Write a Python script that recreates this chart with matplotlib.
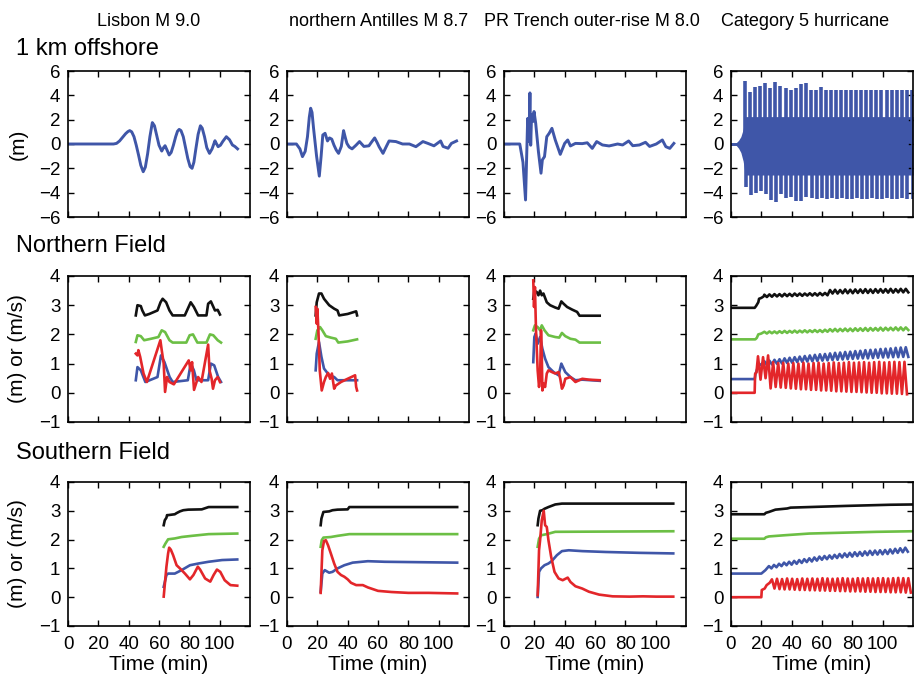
import numpy as np
import matplotlib
matplotlib.use("Agg")
import matplotlib.pyplot as plt

plt.rcParams['font.family'] = ['Liberation Sans', 'DejaVu Sans']

# --- column titles / row labels ---
col_titles = ["Lisbon M 9.0", "northern Antilles M 8.7",
              "PR Trench outer-rise M 8.0", "Category 5 hurricane"]
row_labels = ["1 km offshore", "Northern Field", "Southern Field"]
row_ylabels = ["(m)", "(m) or (m/s)", "(m) or (m/s)"]
x_ticks = [0, 20, 40, 60, 80, 100]
top_yticks = [-6, -4, -2, 0, 2, 4, 6]
field_yticks = [-1, 0, 1, 2, 3, 4]

# --- row 1: water level 1 km offshore (min, m) ---
lis_off_t = [0, 30, 32, 34, 36, 38, 39.5, 40.7, 42, 43.5, 45, 46.5, 48, 49.6, 51, 52.5, 54,
             55.6, 57, 58.5, 60, 61.8, 63, 64, 65.3, 66.7, 68, 69.5, 71, 72.2, 73.3, 74.5, 76,
             77.5, 79, 80.5, 81.8, 83, 84.3, 85.8, 87.3, 88.5, 90, 91.5, 93.3, 95, 96.9, 98,
             99, 100.5, 102, 104.4, 106.5, 108.4, 110, 111.8]
lis_off_y = [0, 0, 0.05, 0.25, 0.55, 0.85, 1.02, 1.1, 1.0, 0.6, -0.1, -0.9, -1.75, -2.28,
             -1.9, -0.8, 0.6, 1.76, 1.5, 0.7, -0.1, -0.58, -0.3, -0.14, -0.5, -0.9, -0.7, -0.1,
             0.6, 1.05, 1.2, 1.1, 0.6, -0.3, -1.2, -1.85, -2.0, -1.5, -0.4, 0.8, 1.5, 1.3, 0.6,
             -0.3, -0.77, -0.4, 0.27, 0.0, -0.22, -0.1, 0.2, 0.6, 0.35, -0.08, -0.2, -0.4]

ant_off_t = [0, 6.2, 8.5, 10.2, 12, 13.5, 14.7, 15.6, 16.5, 17.5, 19.5, 21.3, 22.5, 23.6, 25.1,
             26.7, 28, 29.5, 31, 32.5, 34, 35.8, 37.3, 38.5, 39.5, 41, 42.9, 45.5, 47.8, 50.7,
             54, 56, 57.8, 59.5, 60.7, 63.3, 65.5, 67.3, 71.8, 76.2, 80.7, 85, 89.6, 92.9,
             96.9, 101.3, 102.9, 106.2, 108.4, 111.8]
ant_off_y = [0, 0, -0.4, -1.04, -0.6, 0.6, 2.2, 2.94, 2.6, 1.3, -1.0, -2.64, -1.0, 0.74, 0.88,
             0.25, 0.5, 0.4, -0.1, -0.5, -0.77, -0.2, 1.1, 0.5, 0.05, -0.25, -0.4, -0.1, 0.2,
             -0.2, -0.15, 0.2, 0.5, 0.1, -0.22, -0.77, -0.2, 0.25, 0.2, 0.0, 0.0, -0.22, 0.2,
             0.05, -0.15, 0.25, -0.2, -0.35, 0.05, 0.25]

pr_off_t = [0, 10.4, 12.5, 14.2, 15.6, 16.4, 17.1, 17.6, 18.2, 19.1, 19.8, 20.9, 22.7, 24.4,
            25.3, 26.7, 28.2, 29.8, 31.6, 33.8, 37.1, 40, 42, 43.8, 47.1, 51.6, 54.9, 58.2,
            61.1, 64.9, 69.3, 74.9, 78.2, 82.2, 84.9, 89.3, 93.3, 96, 100.4, 104.4, 106.7,
            109.3, 112]
pr_off_y = [0, 0, -1.5, -4.6, 2.1, 0.2, 4.2, -0.1, 2.4, 1.85, 2.67, 1.7, -0.63, -2.4,
            -1.3, -1.04, 0.6, 0.88, 1.29, 0.33, -0.85, 0.05, 0.33, -0.16, 0.05, 0.03, 0.1, -0.36,
            0.2, -0.08, -0.16, 0.0, -0.08, 0.25, -0.14, -0.08, 0.14, -0.2, 0.0, 0.33, -0.22,
            -0.36, 0.05]

# hurricane offshore: dense surge band, plus large spikes every ~3.3 min
hur_band_t = [3, 5, 6.5, 8, 9, 9.5, 120]
hur_band_hi = [0.05, 0.3, 0.6, 1.2, 1.9, 2.25, 2.25]
hur_band_lo = [-0.05, -0.35, -0.7, -1.4, -2.2, -2.55, -2.55]
hur_spike_start, hur_spike_period = 9.3, 3.33
hur_spike_hi = [5.2, 4.3, 4.7, 4.8, 5.0, 4.6, 5.1, 4.8, 4.6, 4.45, 4.6, 4.95, 5.0, 4.45, 4.4,
                4.7, 4.4, 4.45, 4.4, 4.45, 4.4, 4.45, 4.45, 4.4, 4.45, 4.4, 4.45, 4.4, 4.45,
                4.4, 4.45, 4.4, 4.4, 4.4]
hur_spike_lo = [-3.5, -4.2, -4.0, -3.9, -4.1, -4.6, -4.75, -4.15, -4.4, -4.35, -4.7, -4.7,
                -4.35, -4.4, -4.5, -4.45, -4.5, -4.45, -4.5, -4.45, -4.5, -4.5, -4.45, -4.5,
                -4.5, -4.45, -4.5, -4.5, -4.45, -4.5, -4.5, -4.45, -4.5, -4.5]

# --- row 2: northern field ---
lis_n_black_t = [44.7, 45.8, 48, 49, 50.7, 53.6, 59, 61, 62.4, 64.7, 66.9, 69, 77, 79, 80.9, 83,
                 85.8, 91.3, 92.4, 94.2, 96.9, 98.7, 100.2]
lis_n_black_y = [2.65, 3.0, 2.97, 2.82, 2.65, 2.7, 2.82, 3.1, 3.22, 3.1, 2.82, 2.65, 2.65, 2.88,
                 3.1, 2.94, 2.65, 2.65, 3.05, 3.13, 2.82, 2.84, 2.68]
lis_n_green_t = [44.7, 45.8, 48, 50.2, 54.7, 59.6, 61.8, 64, 66.9, 69, 78, 80.2, 82.4, 85.3,
                 91.3, 93.6, 95.8, 98.7, 100.9]
lis_n_green_y = [1.74, 1.97, 1.94, 1.8, 1.85, 1.91, 2.14, 2.08, 1.8, 1.72, 1.72, 1.97, 2.0, 1.72,
                 1.72, 2.0, 1.97, 1.8, 1.72]
lis_n_blue_t = [44.7, 45.8, 48, 51, 59, 61.3, 63.6, 67, 69, 79, 80.9, 83, 84.7, 92.4, 94.2,
                96.4, 99, 100.9]
lis_n_blue_y = [0.43, 0.88, 0.77, 0.37, 0.54, 1.28, 1.05, 0.54, 0.37, 0.43, 1.0, 0.77, 0.43,
                0.43, 1.0, 0.94, 0.54, 0.37]
lis_n_red_t = [44.7, 45.8, 46.4, 47.6, 49.8, 52, 60.9, 61.8, 63.1, 64, 65.3, 66.9, 69.8, 79.6,
               80.9, 81.8, 83.1, 85.8, 88, 92.4, 93.3, 94.7, 95.6, 96.9, 98.7, 100.2]
lis_n_red_y = [1.34, 1.28, 1.46, 1.23, 0.66, 0.37, 1.8, 1.46, 1.0, 0.03, 0.54, 0.37, 0.29, 1.11,
               0.77, 1.05, 0.1, 0.54, 0.37, 1.65, 0.77, 0.48, 0.14, 0.43, 0.54, 0.37]

ant_n_black_t = [18.9, 19.6, 21.1, 22.7, 24.4, 27.8, 31.1, 33.3, 34.4, 40, 45.6, 46.2]
ant_n_black_y = [2.65, 3.1, 3.4, 3.4, 3.22, 3.0, 2.88, 2.82, 2.65, 2.7, 2.79, 2.65]
ant_n_green_t = [18.9, 20, 21.8, 23.3, 25.6, 28.9, 32.2, 33.8, 40, 46.2]
ant_n_green_y = [1.85, 2.14, 2.25, 2.14, 1.94, 1.89, 1.85, 1.72, 1.76, 1.83]
ant_n_blue_t = [18.9, 19.6, 21.1, 22.7, 24.4, 27.8, 31.1, 33.3, 40, 46.2]
ant_n_blue_y = [0.77, 1.34, 1.74, 1.23, 0.83, 0.6, 0.54, 0.43, 0.43, 0.43]
ant_n_red_t = [18.9, 19.6, 20, 20.7, 21.6, 22.9, 24.4, 25.6, 27.1, 28.4, 29.6, 31.1, 32.2, 35.6,
               40, 44.9, 45.6, 46.2]
ant_n_red_y = [2.94, 2.37, 2.88, 2.14, 0.77, 0.08, 0.37, 0.54, 0.68, 0.48, 0.66, 0.14, 0.25,
               0.37, 0.48, 0.6, 0.2, 0.08]

pr_n_black_t = [19.3, 20, 21.6, 22.7, 23.8, 24.9, 26, 28.2, 30.4, 33.8, 36, 37.8, 39.3, 41.6,
                44.9, 48.2, 49.8, 63.1]
pr_n_black_y = [3.22, 3.5, 3.45, 3.34, 3.5, 3.34, 3.4, 3.1, 3.0, 2.92, 2.88, 3.13, 3.05, 2.94,
                2.85, 2.77, 2.64, 2.64]
pr_n_green_t = [19.3, 20.4, 22.2, 23.8, 24.9, 26.7, 29.3, 33.8, 36.4, 38.2, 40.4, 43.8, 47.1,
                49.8, 63.1]
pr_n_green_y = [2.14, 2.31, 2.25, 2.14, 2.31, 2.14, 1.97, 1.91, 1.89, 2.05, 1.94, 1.85, 1.82,
                1.72, 1.72]
pr_n_blue_t = [19.3, 20, 20.9, 22.2, 23.8, 25.3, 27.1, 29.3, 32.7, 36, 37.8, 38.7, 40.4, 43.8,
               47.1, 51.6, 63.1]
pr_n_blue_y = [1.05, 1.91, 2.03, 1.68, 1.91, 1.51, 1.17, 0.88, 0.71, 0.6, 1.0, 0.9, 0.71, 0.54,
               0.43, 0.45, 0.41]
pr_n_red_t = [19.3, 19.8, 20.4, 21.1, 22.2, 23.1, 23.8, 24.4, 24.9, 25.3, 26.2, 27.1, 28.2,
              29.3, 31.6, 33.8, 36, 37.1, 38.2, 39.3, 40.4, 43.8, 47.1, 51.6, 56, 63.1]
pr_n_red_y = [3.85, 2.94, 3.62, 2.14, 0.77, 0.2, 0.54, 2.14, 1.34, 0.08, 0.31, 0.2, 0.66, 0.77,
              0.71, 0.66, 0.71, 0.48, 0.14, 0.25, 0.48, 0.54, 0.37, 0.48, 0.45, 0.43]

# hurricane northern field: flat start, then oscillation (period ~3.33 min)
hur_n_period = 3.33
hur_n_black_pre_t = [0, 15.6, 16.5, 18, 18.5, 20, 21.5]
hur_n_black_pre_y = [2.91, 2.91, 2.97, 3.1, 3.22, 3.25, 3.3]
hur_n_black_hi = [3.36, 3.37, 3.38, 3.38, 3.39, 3.39, 3.40, 3.40, 3.40, 3.41, 3.41, 3.42, 3.42,
                  3.52, 3.53, 3.52, 3.54, 3.53, 3.54, 3.54, 3.55, 3.54, 3.55, 3.55, 3.55, 3.56,
                  3.55, 3.56, 3.56]
hur_n_black_lo = [3.28, 3.29, 3.30, 3.30, 3.31, 3.31, 3.32, 3.32, 3.33, 3.33, 3.33, 3.34, 3.34,
                  3.40, 3.40, 3.41, 3.41, 3.41, 3.42, 3.42, 3.42, 3.42, 3.43, 3.43, 3.43, 3.43,
                  3.44, 3.44, 3.44]
hur_n_green_pre_t = [0, 16, 17, 18, 20]
hur_n_green_pre_y = [1.83, 1.83, 1.88, 2.0, 2.03]
hur_n_green_hi = [2.09, 2.10, 2.10, 2.11, 2.12, 2.12, 2.13, 2.13, 2.14, 2.14, 2.15, 2.15, 2.16,
                  2.18, 2.19, 2.19, 2.20, 2.20, 2.21, 2.21, 2.22, 2.22, 2.22, 2.23, 2.23, 2.23,
                  2.24, 2.24, 2.24]
hur_n_green_lo = [2.03, 2.04, 2.04, 2.05, 2.05, 2.06, 2.06, 2.07, 2.07, 2.08, 2.08, 2.08, 2.09,
                  2.10, 2.10, 2.11, 2.11, 2.11, 2.12, 2.12, 2.12, 2.13, 2.13, 2.13, 2.14, 2.14,
                  2.14, 2.14, 2.15]
hur_n_blue_pre_t = [0, 15.6, 16.2, 17.5, 19, 20.5]
hur_n_blue_pre_y = [0.47, 0.47, 0.65, 0.85, 0.95, 1.0]
hur_n_blue_hi = [1.08, 1.10, 1.13, 1.15, 1.18, 1.20, 1.22, 1.24, 1.26, 1.28, 1.30, 1.32, 1.33,
                 1.35, 1.37, 1.38, 1.40, 1.41, 1.43, 1.44, 1.46, 1.47, 1.48, 1.50, 1.51, 1.52,
                 1.54, 1.55, 1.56]
hur_n_blue_lo = [0.95, 0.97, 0.99, 1.00, 1.02, 1.03, 1.05, 1.06, 1.07, 1.08, 1.09, 1.10, 1.11,
                 1.12, 1.13, 1.14, 1.15, 1.16, 1.17, 1.18, 1.18, 1.19, 1.20, 1.21, 1.21, 1.22,
                 1.22, 1.23, 1.23]
hur_n_red_pre_t = [0, 15.6, 15.9, 16.8]
hur_n_red_pre_y = [0, 0, 0.65, 0.7]
hur_n_red_hi = [1.25, 1.22, 1.28, 1.05, 1.02, 1.03, 1.0, 1.02, 1.0, 1.03, 1.0, 1.02, 1.03, 1.0,
                1.02, 1.04, 1.02, 1.03, 1.05, 1.03, 1.04, 1.05, 1.03, 1.05, 1.06, 1.04, 1.05,
                1.06, 1.05, 1.06]
hur_n_red_lo = [0.45, 0.50, 0.15, 0.20, 0.18, 0.17, 0.15, 0.14, 0.12, 0.12, 0.10, 0.10, 0.08,
                0.08, 0.07, 0.05, 0.05, 0.04, 0.03, 0.03, 0.02, 0.01, 0.0, 0.0, -0.02, -0.02,
                -0.03, -0.03, -0.04, -0.05]

# --- row 3: southern field ---
lis_s_black_t = [63.1, 63.8, 64.9, 65.3, 66, 70.4, 71.6, 73.8, 76, 79.3, 88.2, 92.7, 100.4, 111.6]
lis_s_black_y = [2.5, 2.67, 2.76, 2.85, 2.85, 2.88, 2.92, 2.98, 3.02, 3.04, 3.05, 3.13, 3.13, 3.13]
lis_s_green_t = [63.1, 64.2, 66, 70.4, 74.9, 81.6, 92.7, 111.6]
lis_s_green_y = [1.75, 1.86, 2.01, 2.04, 2.09, 2.13, 2.19, 2.21]
lis_s_blue_t = [63.1, 64.9, 66, 70.4, 74.9, 80.4, 86, 92.7, 101.6, 111.6]
lis_s_blue_y = [0.36, 0.77, 0.82, 0.82, 0.94, 1.11, 1.17, 1.23, 1.29, 1.31]
lis_s_red_t = [63.1, 64.9, 66, 66.7, 67.8, 69.3, 71.6, 73.8, 77.1, 80.4, 82.7, 85.6, 87.1, 90.4,
               93.8, 96, 98.2, 100.4, 103.3, 107.1, 111.6]
lis_s_red_y = [0.02, 1.06, 1.52, 1.72, 1.65, 1.46, 1.11, 1.0, 0.82, 0.62, 0.77, 1.06, 0.96, 0.65,
               0.54, 0.77, 0.96, 0.88, 0.59, 0.42, 0.4]

ant_s_black_t = [22.2, 22.7, 24, 27.8, 30, 33.3, 40, 41.1, 53.3, 112.2]
ant_s_black_y = [2.5, 2.73, 2.96, 2.98, 3.02, 3.04, 3.05, 3.13, 3.13, 3.13]
ant_s_green_t = [22.2, 22.9, 24, 28.9, 33.3, 41.1, 112.2]
ant_s_green_y = [1.75, 1.98, 2.07, 2.09, 2.13, 2.19, 2.19]
ant_s_blue_t = [22.2, 23.3, 24.9, 27.8, 30, 33.3, 37.8, 43.3, 53.3, 64.4, 112.2]
ant_s_blue_y = [0.19, 0.82, 0.94, 0.85, 0.88, 1.0, 1.11, 1.2, 1.25, 1.23, 1.2]
ant_s_red_t = [22.2, 23.3, 24.4, 25.6, 27.1, 28.9, 31.1, 33.3, 35.6, 37.8, 40, 42.2, 45.6, 50,
               53.3, 60, 68.9, 80, 93.3, 112.2]
ant_s_red_y = [0.15, 1.63, 1.95, 1.98, 1.8, 1.52, 1.17, 0.88, 0.77, 0.71, 0.62, 0.5, 0.42, 0.42,
               0.34, 0.22, 0.18, 0.15, 0.15, 0.13]

pr_s_black_t = [22.2, 22.7, 23.8, 25.3, 26.7, 29.3, 33.8, 38.2, 111.6]
pr_s_black_y = [2.5, 2.73, 3.0, 3.02, 3.07, 3.13, 3.22, 3.25, 3.25]
pr_s_green_t = [22.2, 23.1, 24.4, 28.2, 33.8, 111.6]
pr_s_green_y = [1.75, 2.03, 2.15, 2.19, 2.27, 2.29]
pr_s_blue_t = [22.2, 23.1, 24.4, 26.7, 29.3, 31.6, 34.9, 38.2, 42.7, 51.6, 67.1, 89.3, 111.6]
pr_s_blue_y = [0.01, 0.88, 1.0, 1.11, 1.17, 1.26, 1.46, 1.6, 1.63, 1.6, 1.57, 1.54, 1.52]
pr_s_red_t = [22.2, 23.1, 23.8, 24.9, 26.2, 27.1, 28.2, 29.3, 31.1, 33.3, 36, 38.7, 40.9, 42,
              43.8, 47.1, 51.6, 56, 62.7, 71.6, 82.7, 91.6, 100.4, 111.6]
pr_s_red_y = [0.07, 1.63, 1.98, 2.67, 3.0, 2.5, 2.44, 1.98, 1.4, 0.88, 0.65, 0.59, 0.65, 0.68,
              0.53, 0.38, 0.3, 0.19, 0.09, 0.03, 0.02, 0.03, 0.02, 0.02]

# hurricane southern field
hur_s_black_t = [0, 22, 23, 25, 29.3, 37, 39.3, 51.6, 76, 105, 120]
hur_s_black_y = [2.88, 2.88, 2.93, 2.96, 3.04, 3.08, 3.11, 3.13, 3.17, 3.21, 3.22]
hur_s_green_t = [0, 22, 23, 25, 35, 51.6, 73.8, 96, 120]
hur_s_green_y = [2.03, 2.03, 2.08, 2.11, 2.15, 2.21, 2.24, 2.27, 2.29]
hur_s_period = 3.33
hur_s_blue_pre_t = [0, 20, 22.7]
hur_s_blue_pre_y = [0.82, 0.82, 0.94]
hur_s_blue_hi = [1.08, 1.12, 1.16, 1.20, 1.23, 1.26, 1.29, 1.32, 1.35, 1.38, 1.41, 1.43, 1.45,
                 1.47, 1.50, 1.52, 1.54, 1.56, 1.57, 1.59, 1.61, 1.62, 1.63, 1.64, 1.66, 1.68,
                 1.70, 1.72]
hur_s_blue_lo = [1.00, 1.04, 1.08, 1.11, 1.13, 1.16, 1.19, 1.22, 1.24, 1.27, 1.30, 1.32, 1.34,
                 1.36, 1.38, 1.40, 1.41, 1.43, 1.44, 1.46, 1.47, 1.48, 1.49, 1.50, 1.52, 1.54,
                 1.56, 1.58]
hur_s_red_pre_t = [0, 20, 20.3, 22.2, 23.5, 25.5]
hur_s_red_pre_y = [0, 0, 0.25, 0.3, 0.42, 0.5]
hur_s_red_hi = [0.62, 0.64, 0.63, 0.65, 0.64, 0.63, 0.65, 0.64, 0.65, 0.64, 0.66, 0.65, 0.64,
                0.65, 0.66, 0.65, 0.64, 0.66, 0.65, 0.66, 0.65, 0.66, 0.66, 0.65, 0.66, 0.67,
                0.66, 0.66]
hur_s_red_lo = [0.30, 0.28, 0.27, 0.27, 0.26, 0.25, 0.25, 0.24, 0.24, 0.23, 0.23, 0.22, 0.22,
                0.21, 0.21, 0.20, 0.20, 0.20, 0.19, 0.19, 0.18, 0.18, 0.18, 0.17, 0.17, 0.17,
                0.16, 0.16]

BLUE = '#3F56A8'
RED = '#E3262A'
GREEN = '#6CBF45'
BLACK = '#111111'
LW = 1.9
plt.rcParams['lines.solid_joinstyle'] = 'round'


def with_cycles(pre_t, pre_y, t0, period, hi, lo):
    # flat/ramp part, then one peak and one trough per cycle
    t = list(pre_t)
    y = list(pre_y)
    for i, (p, q) in enumerate(zip(hi, lo)):
        t += [t0 + i * period, t0 + (i + 0.5) * period]
        y += [p, q]
    return t, y


def style_axes(ax, row):
    ax.set_xlim(0, 120)
    ax.set_xticks(x_ticks)
    if row == 0:
        ax.set_ylim(-6, 6)
        ax.set_yticks(top_yticks)
    else:
        ax.set_ylim(-1, 4)
        ax.set_yticks(field_yticks)
    ax.tick_params(direction='in', top=True, right=True, length=4, width=1,
                   labelsize=13.5)
    ax.tick_params(axis='x', pad=7)
    ax.tick_params(axis='y', pad=5.5)
    if row < 2:
        ax.tick_params(labelbottom=False)
    for s in ax.spines.values():
        s.set_linewidth(1.2)


fig = plt.figure(figsize=(9.15, 6.85), dpi=100)
W, H = 915.0, 685.0
col_left = [68, 287, 504, 731]
col_w = 182
row_top = [71, 276, 482]
row_h = [146, 146, 144]

axes = []
for r in range(3):
    row_axes = []
    for c in range(4):
        ax = fig.add_axes([col_left[c] / W, 1 - (row_top[r] + row_h[r]) / H,
                           col_w / W, row_h[r] / H])
        style_axes(ax, r)
        row_axes.append(ax)
    axes.append(row_axes)

# row 1
axes[0][0].plot(lis_off_t, lis_off_y, color=BLUE, lw=2.1)
axes[0][1].plot(ant_off_t, ant_off_y, color=BLUE, lw=2.1)
axes[0][2].plot(pr_off_t, pr_off_y, color=BLUE, lw=2.1)
ax = axes[0][3]
ax.plot([0, 3.5], [0, 0], color=BLUE, lw=2.1)
ax.fill_between(hur_band_t, hur_band_lo, hur_band_hi, color=BLUE, lw=0)
spike_t = [hur_spike_start + i * hur_spike_period for i in range(len(hur_spike_hi))]
ax.vlines(spike_t, 0, hur_spike_hi, color=BLUE, lw=2.6)
ax.vlines([s + 0.5 for s in spike_t], hur_spike_lo, 0, color=BLUE, lw=2.6)

# rows 2 and 3, simple panels
field_series = [
    [(lis_n_black_t, lis_n_black_y, lis_n_green_t, lis_n_green_y,
      lis_n_blue_t, lis_n_blue_y, lis_n_red_t, lis_n_red_y),
     (ant_n_black_t, ant_n_black_y, ant_n_green_t, ant_n_green_y,
      ant_n_blue_t, ant_n_blue_y, ant_n_red_t, ant_n_red_y),
     (pr_n_black_t, pr_n_black_y, pr_n_green_t, pr_n_green_y,
      pr_n_blue_t, pr_n_blue_y, pr_n_red_t, pr_n_red_y)],
    [(lis_s_black_t, lis_s_black_y, lis_s_green_t, lis_s_green_y,
      lis_s_blue_t, lis_s_blue_y, lis_s_red_t, lis_s_red_y),
     (ant_s_black_t, ant_s_black_y, ant_s_green_t, ant_s_green_y,
      ant_s_blue_t, ant_s_blue_y, ant_s_red_t, ant_s_red_y),
     (pr_s_black_t, pr_s_black_y, pr_s_green_t, pr_s_green_y,
      pr_s_blue_t, pr_s_blue_y, pr_s_red_t, pr_s_red_y)],
]
for r in range(2):
    for c in range(3):
        bt, by, gt, gy, ut, uy, rt, ry = field_series[r][c]
        ax = axes[r + 1][c]
        ax.plot(bt, by, color=BLACK, lw=LW)
        ax.plot(gt, gy, color=GREEN, lw=LW)
        ax.plot(ut, uy, color=BLUE, lw=LW)
        ax.plot(rt, ry, color=RED, lw=LW)

# hurricane northern field
ax = axes[1][3]
t, y = with_cycles(hur_n_black_pre_t, hur_n_black_pre_y, 22, hur_n_period,
                   hur_n_black_hi, hur_n_black_lo)
ax.plot(t, y, color=BLACK, lw=LW)
t, y = with_cycles(hur_n_green_pre_t, hur_n_green_pre_y, 22, hur_n_period,
                   hur_n_green_hi, hur_n_green_lo)
ax.plot(t, y, color=GREEN, lw=LW)
t, y = with_cycles(hur_n_blue_pre_t, hur_n_blue_pre_y, 22, hur_n_period,
                   hur_n_blue_hi, hur_n_blue_lo)
ax.plot(t, y, color=BLUE, lw=LW)
t, y = with_cycles(hur_n_red_pre_t, hur_n_red_pre_y, 17.8, hur_n_period,
                   hur_n_red_hi, hur_n_red_lo)
ax.plot(t, y, color=RED, lw=LW)

# hurricane southern field
ax = axes[2][3]
ax.plot(hur_s_black_t, hur_s_black_y, color=BLACK, lw=LW)
ax.plot(hur_s_green_t, hur_s_green_y, color=GREEN, lw=LW)
t, y = with_cycles(hur_s_blue_pre_t, hur_s_blue_pre_y, 25, hur_s_period,
                   hur_s_blue_hi, hur_s_blue_lo)
ax.plot(t, y, color=BLUE, lw=LW)
t, y = with_cycles(hur_s_red_pre_t, hur_s_red_pre_y, 27, hur_s_period,
                   hur_s_red_hi, hur_s_red_lo)
ax.plot(t, y, color=RED, lw=LW)

for c in range(4):
    axes[2][c].set_xlabel("Time (min)", fontsize=15, labelpad=2)

# text placed by pixel position
title_x = [149, 379, 592, 805]
for c in range(4):
    fig.text(title_x[c] / W, 1 - 22 / H, col_titles[c], fontsize=13,
             ha='center', va='center')
row_label_y = [49, 246, 453]
for r in range(3):
    fig.text(16 / W, 1 - row_label_y[r] / H, row_labels[r], fontsize=17,
             ha='left', va='center')
ylabel_y = [144, 349, 554]
for r in range(3):
    fig.text(18 / W, 1 - ylabel_y[r] / H, row_ylabels[r], fontsize=15,
             rotation=90, ha='center', va='center')

fig.savefig("out.png", dpi=100)
